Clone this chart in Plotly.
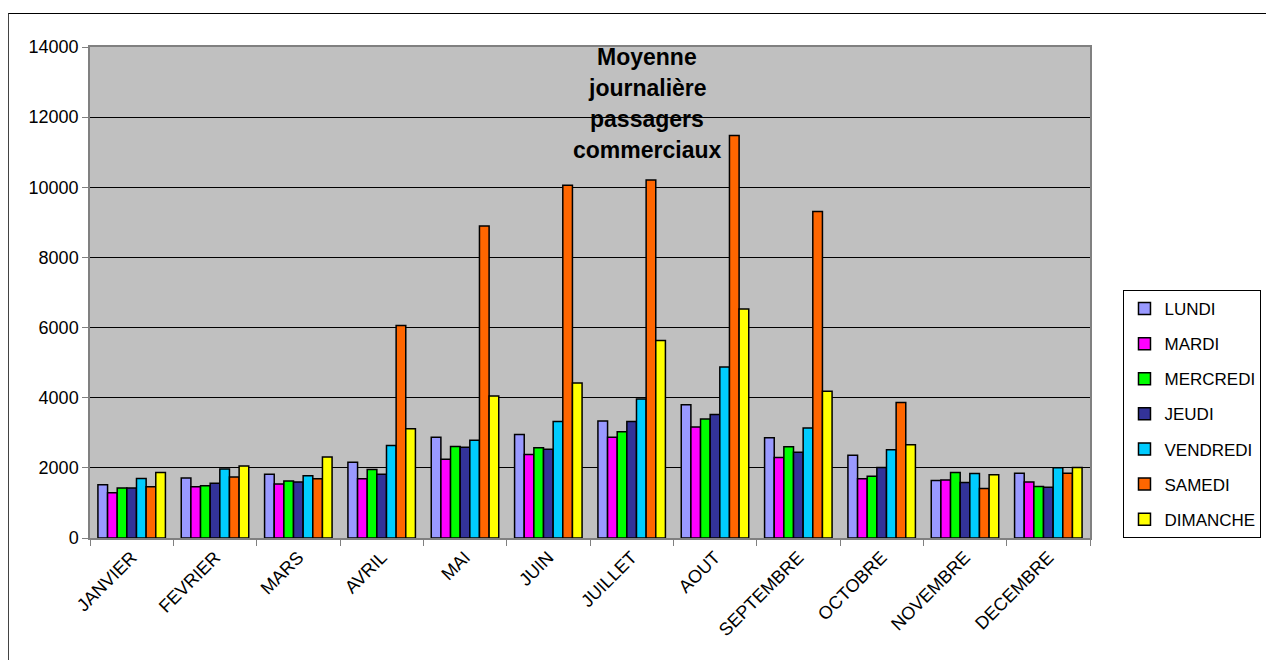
import plotly.graph_objects as go

months = ["JANVIER", "FEVRIER", "MARS", "AVRIL", "MAI", "JUIN", "JUILLET",
          "AOUT", "SEPTEMBRE", "OCTOBRE", "NOVEMBRE", "DECEMBRE"]

lundi    = [1520, 1710, 1815, 2160, 2876, 2952, 3333, 3800, 2857, 2362, 1638, 1848]
mardi    = [1290, 1460, 1540, 1686, 2248, 2381, 2876, 3162, 2295, 1686, 1657, 1600]
mercredi = [1425, 1490, 1625, 1952, 2610, 2571, 3029, 3390, 2600, 1762, 1867, 1467]
jeudi    = [1425, 1560, 1600, 1819, 2590, 2533, 3324, 3524, 2448, 2010, 1581, 1448]
vendredi = [1700, 1970, 1775, 2638, 2790, 3324, 3962, 4876, 3133, 2514, 1838, 2000]
samedi   = [1460, 1740, 1690, 6057, 8895, 10060, 10210, 11476, 9310, 3867, 1410, 1848]
dimanche = [1870, 2050, 2310, 3114, 4048, 4419, 5629, 6533, 4181, 2657, 1800, 2010]

series_names = ["LUNDI", "MARDI", "MERCREDI", "JEUDI", "VENDREDI", "SAMEDI", "DIMANCHE"]
series_values = [lundi, mardi, mercredi, jeudi, vendredi, samedi, dimanche]
colors = ["#9999FF", "#FF00FF", "#00FF00", "#333399", "#00CCFF", "#FF6600", "#FFFF00"]

title_lines = ["Moyenne", "journalière", "passagers", "commerciaux"]

FONT = "Arial, Liberation Sans, sans-serif"

fig = go.Figure()
for i, (name, vals, col) in enumerate(zip(series_names, series_values, colors)):
    fig.add_trace(go.Bar(
        x=months, y=vals, name=name, legendgroup=name,
        marker=dict(color=col, line=dict(color="black", width=1.5)),
    ))

# page offset (body margin) of 8px
OFF = 8
FW, FH = 1274 - OFF, 660 - OFF
# plot area in screen pixels: x 90..1093, y 47..538
L, R, T, B = 90, 1093, 47, 538
W, H = R - L, B - T

def px(x):
    return (x - L) / W

def py(y):
    return (B - y) / H

title_y = [57, 88, 119, 150]
for txt, yy in zip(title_lines, title_y):
    fig.add_annotation(text="<b>%s</b>" % txt, x=px(649), y=py(yy),
                       xref="paper", yref="paper", showarrow=False,
                       xanchor="center", yanchor="middle",
                       font=dict(family=FONT, size=23, color="black"))

# outer chart frame
fig.add_shape(type="rect", xref="paper", yref="paper",
              x0=px(8), x1=px(1273.5), y0=py(665), y1=py(13.5),
              line=dict(color="black", width=1), layer="below")

fig.update_layout(
    width=FW, height=FH,
    margin=dict(l=L - OFF, r=FW - (R - OFF), t=T - OFF, b=FH - (B - OFF)),
    paper_bgcolor="white",
    plot_bgcolor="#C0C0C0",
    barmode="group",
    bargap=0.19,
    bargroupgap=0,
    font=dict(family=FONT, size=17, color="black"),
    showlegend=True,
    legend=dict(
        x=px(1265), y=py(290), xanchor="right", yanchor="top",
        bgcolor="white", bordercolor="black", borderwidth=1,
        font=dict(family=FONT, size=17, color="black"),
        traceorder="grouped", tracegroupgap=10,
        itemwidth=30,
    ),
    xaxis=dict(
        tickangle=-45, tickson="boundaries", ticks="outside", ticklen=6,
        tickcolor="#808080", showline=True, linecolor="#808080", linewidth=1.5,
        mirror=True, showgrid=False,
        tickfont=dict(family=FONT, size=18, color="black"),
    ),
    yaxis=dict(
        range=[0, 14000], dtick=2000, ticks="outside", ticklen=6,
        tickcolor="#808080", showline=True, linecolor="#808080", linewidth=1.5,
        mirror=True, showgrid=True, gridcolor="black", gridwidth=1,
        zeroline=False, tickformat="d",
        tickfont=dict(family=FONT, size=18, color="black"),
    ),
)

fig.write_html("out.html")
